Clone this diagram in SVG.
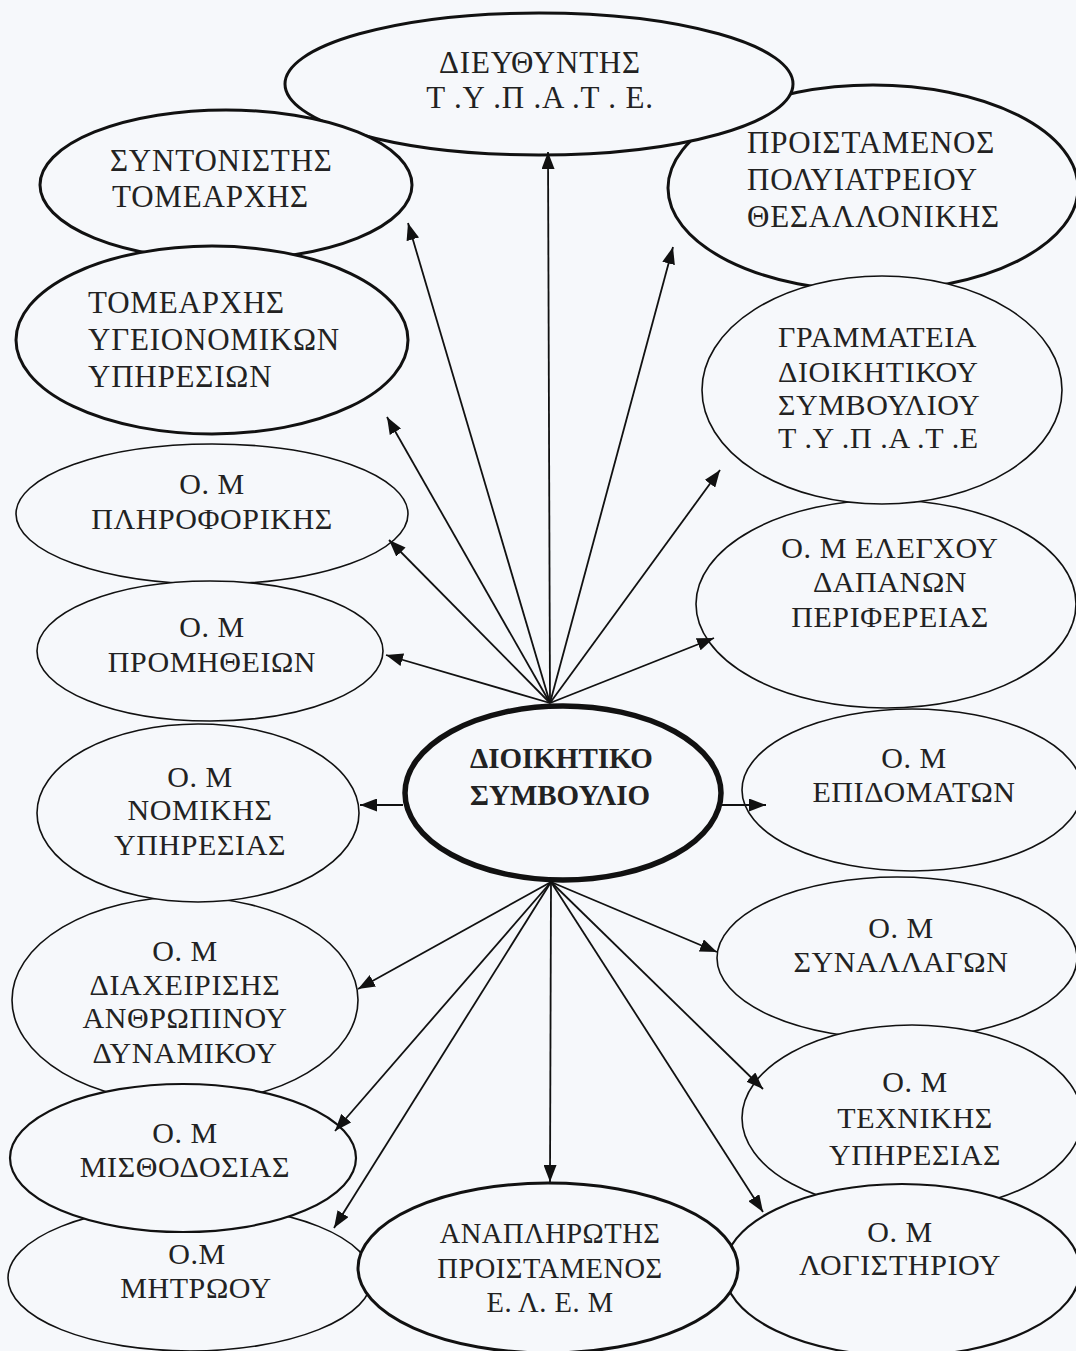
<svg xmlns="http://www.w3.org/2000/svg" width="1076" height="1351" viewBox="0 0 1076 1351">
<defs>
<marker id="ah" markerUnits="userSpaceOnUse" markerWidth="17" markerHeight="13" refX="17" refY="6.5" orient="auto">
<path d="M0,0 L17,6.5 L0,13 z" fill="#111"/>
</marker>
<style>
.n{fill:#f6f8fb;stroke:#111;stroke-width:1.6}
.n2{fill:#f6f8fb;stroke:#111;stroke-width:2.2}
.n3{fill:#f6f8fb;stroke:#111;stroke-width:3}
.c{fill:#f6f8fb;stroke:#111;stroke-width:5.5}
text{font-family:"Liberation Serif","Times New Roman",serif;font-size:30px;letter-spacing:0.6px;fill:#222}
.t{font-size:31px;letter-spacing:0.8px}
.s{font-size:28.5px;letter-spacing:0.5px}
.m{text-anchor:middle}
.b{font-weight:bold;font-size:29px;letter-spacing:0}
.e line{stroke:#111;stroke-width:1.8;marker-end:url(#ah)}
</style>
</defs>
<rect width="1076" height="1351" fill="#f6f8fb"/>

<g id="proistamenos">
<ellipse class="n3" cx="873" cy="188" rx="205" ry="103"/>
<text class="t" x="747" y="153">ΠΡΟΙΣΤΑΜΕΝΟΣ</text>
<text class="t" x="747" y="190">ΠΟΛΥΙΑΤΡΕΙΟΥ</text>
<text class="t" x="747" y="227">ΘΕΣΑΛΛΟΝΙΚΗΣ</text>
</g>
<g id="dieythyntis">
<ellipse class="n3" cx="539" cy="84" rx="254" ry="71"/>
<text class="m t" x="540" y="73">ΔΙΕΥΘΥΝΤΗΣ</text>
<text class="m t" x="540" y="108">Τ .Υ .Π .Α .Τ . Ε.</text>
</g>
<g id="syntonistis">
<ellipse class="n3" cx="226" cy="185" rx="186" ry="75"/>
<text class="t" x="110" y="171">ΣΥΝΤΟΝΙΣΤΗΣ</text>
<text class="t" x="112" y="207">ΤΟΜΕΑΡΧΗΣ</text>
</g>
<g id="pliroforikis">
<ellipse class="n" cx="212" cy="514" rx="196" ry="70"/>
<text class="m" x="212" y="494">Ο. Μ</text>
<text class="m" x="212" y="529">ΠΛΗΡΟΦΟΡΙΚΗΣ</text>
</g>
<g id="tomearchis">
<ellipse class="n3" cx="212" cy="340" rx="196" ry="94"/>
<text class="t" x="88" y="313">ΤΟΜΕΑΡΧΗΣ</text>
<text class="t" x="88" y="350">ΥΓΕΙΟΝΟΜΙΚΩΝ</text>
<text class="t" x="88" y="387">ΥΠΗΡΕΣΙΩΝ</text>
</g>
<g id="elegxou">
<ellipse class="n" cx="886" cy="604" rx="190" ry="104"/>
<text class="m" x="890" y="558">Ο. Μ ΕΛΕΓΧΟΥ</text>
<text class="m" x="890" y="592">ΔΑΠΑΝΩΝ</text>
<text class="m" x="890" y="627">ΠΕΡΙΦΕΡΕΙΑΣ</text>
</g>
<g id="grammateia">
<ellipse class="n" cx="882" cy="390" rx="180" ry="114"/>
<text x="778" y="347">ΓΡΑΜΜΑΤΕΙΑ</text>
<text x="778" y="382">ΔΙΟΙΚΗΤΙΚΟΥ</text>
<text x="778" y="415">ΣΥΜΒΟΥΛΙΟΥ</text>
<text x="778" y="448">Τ .Υ .Π .Α .Τ .Ε</text>
</g>
<g id="epidomaton">
<ellipse class="n" cx="912" cy="790" rx="170" ry="81"/>
<text class="m" x="914" y="768">Ο. Μ</text>
<text class="m" x="914" y="802">ΕΠΙΔΟΜΑΤΩΝ</text>
</g>
<g id="promitheion">
<ellipse class="n" cx="210" cy="651" rx="173" ry="70"/>
<text class="m" x="212" y="637">Ο. Μ</text>
<text class="m" x="212" y="672">ΠΡΟΜΗΘΕΙΩΝ</text>
</g>
<g id="diaxeirisis">
<ellipse class="n" cx="185" cy="1000" rx="173" ry="103"/>
<text class="m" x="185" y="961">Ο. Μ</text>
<text class="m" x="185" y="995">ΔΙΑΧΕΙΡΙΣΗΣ</text>
<text class="m" x="185" y="1028">ΑΝΘΡΩΠΙΝΟΥ</text>
<text class="m" x="185" y="1063">ΔΥΝΑΜΙΚΟΥ</text>
</g>
<g id="nomikis">
<ellipse class="n" cx="198" cy="813" rx="161" ry="89"/>
<text class="m" x="200" y="787">Ο. Μ</text>
<text class="m" x="200" y="820">ΝΟΜΙΚΗΣ</text>
<text class="m" x="200" y="855">ΥΠΗΡΕΣΙΑΣ</text>
</g>
<g id="synallagon">
<ellipse class="n" cx="897" cy="958" rx="180" ry="81"/>
<text class="m" x="901" y="938">Ο. Μ</text>
<text class="m" x="901" y="972">ΣΥΝΑΛΛΑΓΩΝ</text>
</g>
<g id="texnikis">
<ellipse class="n" cx="912" cy="1118" rx="170" ry="93"/>
<text class="m" x="915" y="1092">Ο. Μ</text>
<text class="m" x="915" y="1128">ΤΕΧΝΙΚΗΣ</text>
<text class="m" x="915" y="1165">ΥΠΗΡΕΣΙΑΣ</text>
</g>
<g id="mitroou">
<ellipse class="n" cx="190" cy="1278" rx="182" ry="73"/>
<text class="m" x="197" y="1264">Ο.Μ</text>
<text class="m" x="196" y="1298">ΜΗΤΡΩΟΥ</text>
</g>
<g id="misthodosias">
<ellipse class="n2" cx="183" cy="1158" rx="173" ry="74"/>
<text class="m" x="185" y="1143">Ο. Μ</text>
<text class="m" x="185" y="1177">ΜΙΣΘΟΔΟΣΙΑΣ</text>
</g>
<g id="logistiriou">
<ellipse class="n2" cx="902" cy="1270" rx="178" ry="86"/>
<text class="m" x="900" y="1242">Ο. Μ</text>
<text class="m" x="900" y="1275">ΛΟΓΙΣΤΗΡΙΟΥ</text>
</g>
<g id="anaplirotis">
<ellipse class="n3" cx="548" cy="1268" rx="190" ry="85"/>
<text class="m s" x="550" y="1243">ΑΝΑΠΛΗΡΩΤΗΣ</text>
<text class="m s" x="550" y="1278">ΠΡΟΙΣΤΑΜΕΝΟΣ</text>
<text class="m s" x="550" y="1312">Ε. Λ. Ε. Μ</text>
</g>
<g id="dioikitiko">
<ellipse class="c" cx="563" cy="793" rx="158" ry="87"/>
<text class="b" x="470" y="768">ΔΙΟΙΚΗΤΙΚΟ</text>
<text class="b" x="470" y="805">ΣΥΜΒΟΥΛΙΟ</text>
</g>

<g id="connectors" class="e">
<line x1="550" y1="703" x2="548" y2="152"/>
<line x1="550" y1="703" x2="408" y2="223"/>
<line x1="550" y1="703" x2="673" y2="247"/>
<line x1="550" y1="703" x2="387" y2="417"/>
<line x1="550" y1="703" x2="720" y2="470"/>
<line x1="550" y1="703" x2="389" y2="540"/>
<line x1="550" y1="703" x2="386" y2="655"/>
<line x1="550" y1="703" x2="714" y2="638"/>
<line x1="403" y1="805" x2="360" y2="805"/>
<line x1="722" y1="805" x2="766" y2="805"/>
<line x1="551" y1="882" x2="358" y2="989"/>
<line x1="551" y1="882" x2="335" y2="1131"/>
<line x1="551" y1="882" x2="334" y2="1228"/>
<line x1="551" y1="882" x2="550" y2="1182"/>
<line x1="551" y1="882" x2="717" y2="952"/>
<line x1="551" y1="882" x2="763" y2="1089"/>
<line x1="551" y1="882" x2="763" y2="1212"/>
</g>
</svg>
